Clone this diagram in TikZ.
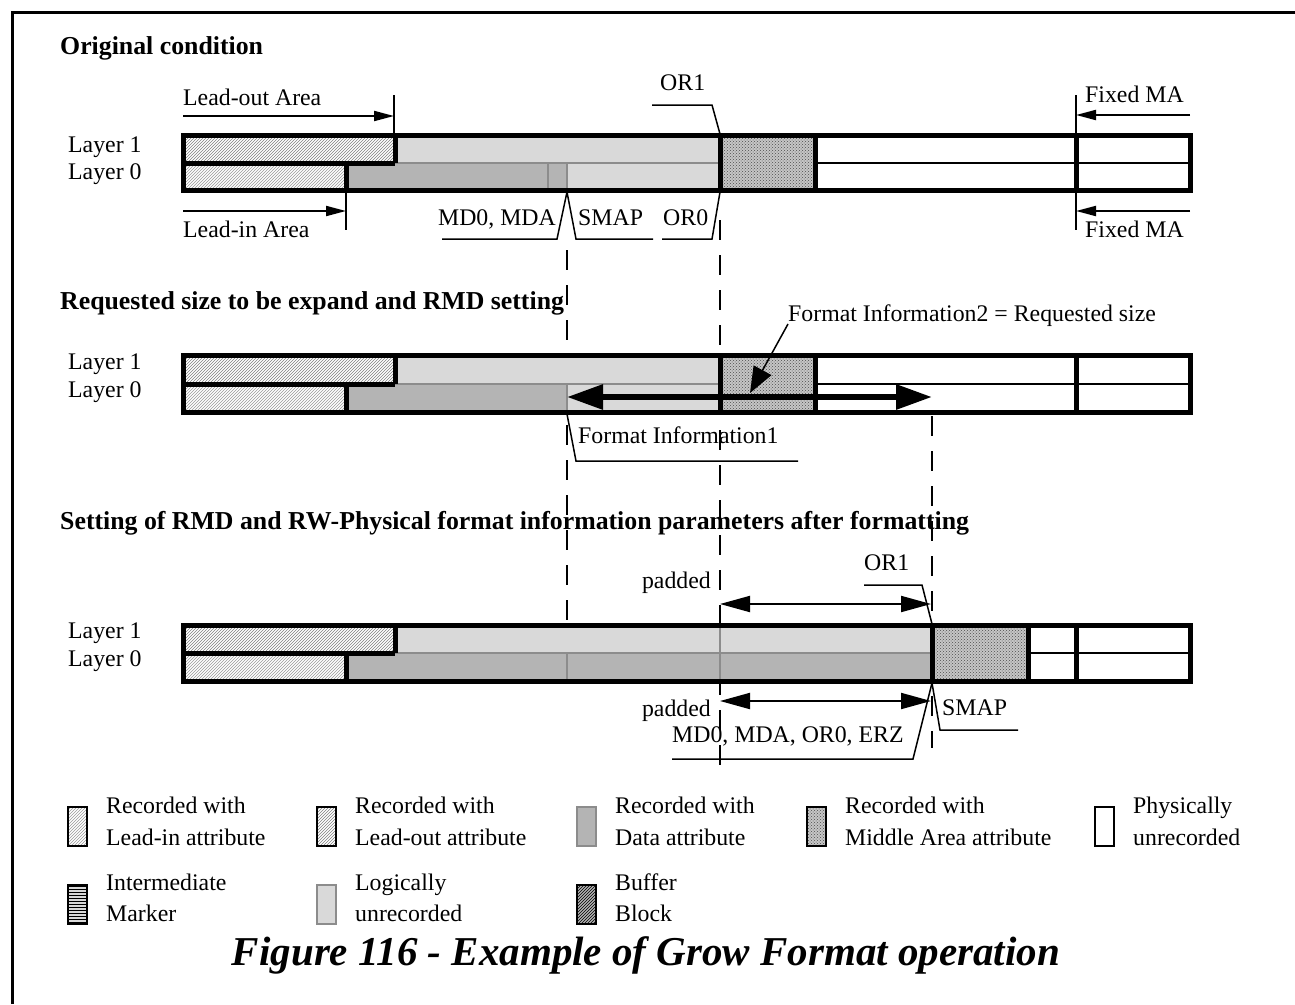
\documentclass[tikz,border=0pt]{standalone}
\usepackage{fontspec}
\setmainfont{Liberation Serif}
\usetikzlibrary{arrows.meta,patterns}
\definecolor{lgray}{HTML}{D9D9D9}
\definecolor{dgray}{HTML}{B4B4B4}
\definecolor{lngray}{HTML}{8C8C8C}
\begin{document}
\begin{tikzpicture}[x=1pt,y=-1pt,
  txt/.style={inner sep=0pt,font=\fontsize{23.8}{28}\selectfont,text height=16pt,text depth=5pt},
  ttl/.style={inner sep=0pt,font=\fontsize{25.8}{30}\selectfont\bfseries,anchor=west},
  thickln/.style={line width=5pt},
  grayln/.style={draw=lngray,line width=2pt},
  thinln/.style={line width=2pt},
  leader/.style={line width=1.5pt},
  dashln/.style={line width=2pt,dash pattern=on 20pt off 15pt},
  arr/.style={line width=2pt,-{Triangle[length=20pt,width=10pt]}},
  darr/.style={line width=2pt,{Triangle[length=30pt,width=16pt]}-{Triangle[length=30pt,width=16pt]}},
  bigarr/.style={line width=6pt,{Triangle[length=36pt,width=24pt]}-{Triangle[length=36pt,width=24pt]}},
  leadinpat/.style={pattern=north east lines,pattern color=black!40},
  leadoutpat/.style={pattern=north east lines,pattern color=black!50},
  midpat/.style={preaction={fill=gray!45},pattern=crosshatch dots,pattern color=black!70},
  sw/.style={minimum width=19pt,minimum height=39pt,inner sep=0pt,line width=2pt},
]
\useasboundingbox (0,0) rectangle (1295,1004);
\fill[white] (0,0) rectangle (1295,1004);
% frame
\coordinate (fr1) at (12,1004); \coordinate (fr2) at (12,12); \coordinate (fr3) at (1295,12);
\draw[line width=3pt] (fr1) -- (fr2) -- (fr3);

% dashed guide lines (under bars)
\coordinate (d1a) at (567,250); \coordinate (d1b) at (567,625);
\coordinate (d2a) at (720,220); \coordinate (d2b) at (720,770);
\coordinate (d3a) at (932,416); \coordinate (d3b) at (932,748);
\draw[dashln] (d1a) -- (d1b);
\draw[dashln] (d2a) -- (d2b);
\draw[dashln] (d3a) -- (d3b);

% ================= Bar 1 =================
\fill[lgray] (395,135) rectangle (720,163);
\fill[lgray] (567,163) rectangle (720,190);
\fill[dgray] (346,163) rectangle (567,190);
\fill[white] (720,135) rectangle (1190,190);
\path[leadoutpat] (183,135) rectangle (395,163);
\path[leadinpat] (183,163) rectangle (346,190);
\path[midpat] (720,135) rectangle (815,190);
\draw[grayln] (395,163) -- (720,163) (548,163) -- (548,190) (567,163) -- (567,190);
\draw[thinln] (815,163) -- (1190,163);
\draw[thickln] (183,135) rectangle (1190,190);
\draw[thickln] (183,163) -- (395,163) (395,135) -- (395,163) (346,163) -- (346,190)
  (720,135) -- (720,190) (815,135) -- (815,190) (1076,135) -- (1076,190);

% ================= Bar 2 =================
\fill[lgray] (395,355) rectangle (720,384);
\fill[lgray] (567,384) rectangle (720,412);
\fill[dgray] (346,384) rectangle (567,412);
\fill[white] (720,355) rectangle (1190,412);
\path[leadoutpat] (183,355) rectangle (395,384);
\path[leadinpat] (183,384) rectangle (346,412);
\path[midpat] (720,355) rectangle (815,412);
\draw[grayln] (395,384) -- (720,384) (567,384) -- (567,412);
\draw[thinln] (815,384) -- (1190,384);
\draw[thickln] (183,355) rectangle (1190,412);
\draw[thickln] (183,384) -- (395,384) (395,355) -- (395,384) (346,384) -- (346,412)
  (720,355) -- (720,412) (815,355) -- (815,412) (1076,355) -- (1076,412);

% ================= Bar 3 =================
\fill[lgray] (395,625) rectangle (932,653);
\fill[dgray] (346,653) rectangle (932,681);
\fill[white] (932,625) rectangle (1190,681);
\path[leadoutpat] (183,625) rectangle (395,653);
\path[leadinpat] (183,653) rectangle (346,681);
\path[midpat] (932,625) rectangle (1028,681);
\draw[grayln] (395,653) -- (932,653) (567,653) -- (567,681) (720,625) -- (720,681);
\draw[thinln] (1028,653) -- (1190,653);
\draw[thickln] (183,625) rectangle (1190,681);
\draw[thickln] (183,653) -- (395,653) (395,625) -- (395,653) (346,653) -- (346,681)
  (932,625) -- (932,681) (1028,625) -- (1028,681) (1076,625) -- (1076,681);

% ================= Section 1 labels =================
\node[ttl] (title1) at (60,48) {Original condition};
\node[txt,anchor=west] (ly1a) at (68,147) {Layer 1};
\node[txt,anchor=west] (ly0a) at (68,174) {Layer 0};

\node[txt,anchor=west] (leadout) at (183,100) {Lead-out Area};
\coordinate (loA) at (183,116); \coordinate (loB) at (394,116);
\draw[arr] (loA) -- (loB);
\coordinate (loT) at (394,95); \coordinate (loD) at (394,135);
\draw[thinln] (loT) -- (loD);

\node[txt,anchor=west] (leadin) at (183,232) {Lead-in Area};
\coordinate (liA) at (183,211); \coordinate (liB) at (346,211);
\draw[arr] (liA) -- (liB);
\coordinate (liT) at (346,190); \coordinate (liD) at (346,230);
\draw[thinln] (liT) -- (liD);

\node[txt,anchor=east] (md0) at (556,220) {MD0, MDA};
\coordinate (md0a) at (442,239); \coordinate (md0b) at (557,239); \coordinate (smapP) at (567,192);
\draw[leader] (md0a) -- (md0b) -- (smapP);
\node[txt,anchor=west] (smap1) at (578,220) {SMAP};
\coordinate (sm1a) at (576,239); \coordinate (sm1b) at (653,239);
\draw[leader] (smapP) -- (sm1a) -- (sm1b);
\node[txt,anchor=west] (or0) at (663,220) {OR0};
\coordinate (or0a) at (662,239); \coordinate (or0b) at (712,239); \coordinate (or0P) at (720,192);
\draw[leader] (or0a) -- (or0b) -- (or0P);
\node[txt,anchor=west] (or1) at (660,85) {OR1};
\coordinate (or1a) at (652,105); \coordinate (or1b) at (712,105); \coordinate (or1P) at (720,134);
\draw[leader] (or1a) -- (or1b) -- (or1P);

\node[txt,anchor=west] (fma1) at (1085,97) {Fixed MA};
\coordinate (fmaA) at (1190,115); \coordinate (fmaB) at (1076,115);
\draw[arr] (fmaA) -- (fmaB);
\node[txt,anchor=west] (fma2) at (1085,232) {Fixed MA};
\coordinate (fmbA) at (1190,211); \coordinate (fmbB) at (1076,211);
\draw[arr] (fmbA) -- (fmbB);
\coordinate (fmT) at (1076,95); \coordinate (fmD) at (1076,230);
\draw[thinln] (fmT) -- (fmD);

% ================= Section 2 labels =================
\node[ttl] (title2) at (60,303) {Requested size to be expand and RMD setting};
\node[txt,anchor=west] (ly1b) at (68,364) {Layer 1};
\node[txt,anchor=west] (ly0b) at (68,392) {Layer 0};
\coordinate (fiA) at (567,397); \coordinate (fiB) at (932,397);
\draw[bigarr] (fiA) -- (fiB);
\node[txt,anchor=west] (fi2) at (788,316) {Format Information2 = Requested size};
\coordinate (fi2a) at (788,324); \coordinate (fi2b) at (750,393);
\draw[line width=1.5pt,-{Triangle[length=26pt,width=20pt]}] (fi2a) -- (fi2b);
\node[txt,anchor=west] (fi1) at (578,438) {Format Information1};
\coordinate (fi1P) at (567,414); \coordinate (fi1a) at (576,461); \coordinate (fi1b) at (798,461);
\draw[leader] (fi1P) -- (fi1a) -- (fi1b);

% ================= Section 3 labels =================
\node[ttl] (title3) at (60,523) {Setting of RMD and RW-Physical format information parameters after formatting};
\node[txt,anchor=west] (ly1c) at (68,633) {Layer 1};
\node[txt,anchor=west] (ly0c) at (68,661) {Layer 0};

\node[txt,anchor=east] (pad1) at (711,583) {padded};
\coordinate (p1a) at (720,604); \coordinate (p1b) at (931,604);
\draw[darr] (p1a) -- (p1b);
\node[txt,anchor=east] (pad2) at (711,711) {padded};
\coordinate (p2a) at (720,701); \coordinate (p2b) at (931,701);
\draw[darr] (p2a) -- (p2b);

\node[txt,anchor=west] (or1c) at (864,565) {OR1};
\coordinate (or1ca) at (864,585); \coordinate (or1cb) at (922,585); \coordinate (or1cP) at (932,624);
\draw[leader] (or1ca) -- (or1cb) -- (or1cP);

\node[txt,anchor=west] (smap3) at (942,710) {SMAP};
\coordinate (sm3P) at (932,683); \coordinate (sm3a) at (940,730); \coordinate (sm3b) at (1018,730);
\draw[leader] (sm3P) -- (sm3a) -- (sm3b);

\node[txt,anchor=west] (mdz) at (672,737) {MD0, MDA, OR0, ERZ};
\coordinate (mdza) at (672,759); \coordinate (mdzb) at (913,759);
\draw[leader] (mdza) -- (mdzb) -- (sm3P);

% ================= Legend =================
\node[sw,draw=black,leadinpat] (sw1) at (77.5,826.5) {};
\node[txt,anchor=west] (lg1a) at (106,808) {Recorded with};
\node[txt,anchor=west] (lg1b) at (106,840) {Lead-in attribute};
\node[sw,draw=black,leadoutpat] (sw2) at (326.5,826.5) {};
\node[txt,anchor=west] (lg2a) at (355,808) {Recorded with};
\node[txt,anchor=west] (lg2b) at (355,840) {Lead-out attribute};
\node[sw,draw=lngray,fill=dgray] (sw3) at (586.5,826.5) {};
\node[txt,anchor=west] (lg3a) at (615,808) {Recorded with};
\node[txt,anchor=west] (lg3b) at (615,840) {Data attribute};
\node[sw,draw=black,midpat] (sw4) at (816.5,826.5) {};
\node[txt,anchor=west] (lg4a) at (845,808) {Recorded with};
\node[txt,anchor=west] (lg4b) at (845,840) {Middle Area attribute};
\node[sw,draw=black,fill=white] (sw5) at (1104.5,826.5) {};
\node[txt,anchor=west] (lg5a) at (1133,808) {Physically};
\node[txt,anchor=west] (lg5b) at (1133,840) {unrecorded};

\node[sw,draw=black,preaction={fill=gray!30},pattern=horizontal lines,pattern color=black] (sw6) at (77.5,904) {};
\node[txt,anchor=west] (lg6a) at (106,885) {Intermediate};
\node[txt,anchor=west] (lg6b) at (106,916) {Marker};
\node[sw,draw=lngray,fill=lgray] (sw7) at (326.5,904) {};
\node[txt,anchor=west] (lg7a) at (355,885) {Logically};
\node[txt,anchor=west] (lg7b) at (355,916) {unrecorded};
\node[sw,draw=black,preaction={fill=gray!60},pattern=north east lines,pattern color=black] (sw8) at (586.5,904) {};
\node[txt,anchor=west] (lg8a) at (615,885) {Buffer};
\node[txt,anchor=west] (lg8b) at (615,916) {Block};

\node[inner sep=0pt,font=\fontsize{41}{48}\selectfont\bfseries\itshape] (caption) at (646,955) {Figure 116 - Example of Grow Format operation};
\end{tikzpicture}
\end{document}
